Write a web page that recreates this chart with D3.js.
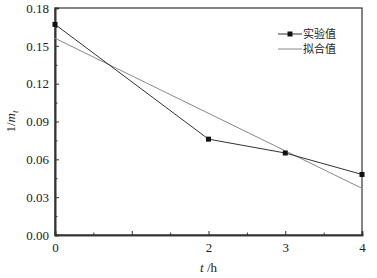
<!DOCTYPE html>
<html>
<head>
<meta charset="utf-8">
<script src="https://cdn.jsdelivr.net/npm/d3@7"></script>
<style>
  body { margin: 0; background: #fff; }
  text { font-family: "Liberation Serif", "DejaVu Serif", serif; fill: #222; }
</style>
</head>
<body>
<script>
// measured values
const hours = [0, 2, 3, 4];
const measured = [0.167, 0.076, 0.065, 0.048];
// fitted straight line, end points
const fitHours = [0, 4];
const fitted = [0.156, 0.037];

const xTicks = [0, 1, 2, 3, 4];
const xTickLabels = ["0", "", "2", "3", "4"];
const yTicks = [0, 0.03, 0.06, 0.09, 0.12, 0.15, 0.18];

const width = 377, height = 278;
const margin = { left: 55, right: 15, top: 8, bottom: 43 };

const svg = d3.select("body").append("svg")
    .attr("width", width)
    .attr("height", height);

const x = d3.scaleLinear().domain([0, 4]).range([margin.left, width - margin.right]);
const y = d3.scaleLinear().domain([0, 0.18]).range([height - margin.bottom, margin.top]);

// frame
svg.append("rect")
    .attr("x", x(0)).attr("y", y(0.18))
    .attr("width", x(4) - x(0)).attr("height", y(0) - y(0.18))
    .attr("fill", "none").attr("stroke", "#333").attr("stroke-width", 1.2);

// ticks pointing inward
svg.append("g")
    .attr("transform", `translate(0,${y(0)})`)
    .call(d3.axisBottom(x).tickValues(xTicks).tickSize(-4).tickPadding(8)
        .tickFormat((d, i) => xTickLabels[i]));
svg.append("g")
    .attr("transform", `translate(0,${y(0)})`)
    .call(d3.axisBottom(x).tickValues([0.5, 1.5, 2.5, 3.5]).tickSize(-2.5).tickFormat(""));

svg.append("g")
    .attr("transform", `translate(${x(0)},0)`)
    .call(d3.axisLeft(y).tickValues(yTicks).tickSize(-4).tickPadding(6)
        .tickFormat(d3.format(".2f")));
svg.append("g")
    .attr("transform", `translate(${x(0)},0)`)
    .call(d3.axisLeft(y).tickValues([0.015, 0.045, 0.075, 0.105, 0.135, 0.165]).tickSize(-2.5).tickFormat(""));

svg.selectAll(".domain").attr("stroke", "#333").attr("stroke-width", 1.6);
svg.selectAll(".tick line").attr("stroke", "#333");
svg.selectAll(".tick text")
    .style("font-family", "'Liberation Serif', serif")
    .style("font-size", "13px")
    .attr("fill", "#222");

// fitted line
const line = d3.line().x(d => x(d[0])).y(d => y(d[1]));
svg.append("path")
    .datum(d3.zip(fitHours, fitted))
    .attr("d", line)
    .attr("fill", "none").attr("stroke", "#888").attr("stroke-width", 1);

// measured line and markers
svg.append("path")
    .datum(d3.zip(hours, measured))
    .attr("d", line)
    .attr("fill", "none").attr("stroke", "#333").attr("stroke-width", 1);

svg.selectAll(".pt")
    .data(d3.zip(hours, measured))
    .join("rect")
    .attr("x", d => x(d[0]) - 2.5)
    .attr("y", d => y(d[1]) - 2.5)
    .attr("width", 5).attr("height", 5)
    .attr("fill", "#111");

// legend
const legend = svg.append("g").attr("transform", "translate(278,34)");
legend.append("line").attr("x1", 0).attr("x2", 24).attr("y1", 0).attr("y2", 0)
    .attr("stroke", "#333");
legend.append("rect").attr("x", 9.5).attr("y", -2.5).attr("width", 5).attr("height", 5).attr("fill", "#111");
legend.append("text").attr("x", 25).attr("y", 4)
    .style("font-family", "'Noto Sans CJK SC', sans-serif").style("font-size", "11px")
    .text("实验值");
legend.append("line").attr("x1", 0).attr("x2", 24).attr("y1", 15).attr("y2", 15)
    .attr("stroke", "#888");
legend.append("text").attr("x", 25).attr("y", 19)
    .style("font-family", "'Noto Sans CJK SC', sans-serif").style("font-size", "11px")
    .text("拟合值");

// axis titles
const yTitle = svg.append("text")
    .attr("transform", `translate(15,${(y(0) + y(0.18)) / 2}) rotate(-90)`)
    .attr("text-anchor", "middle")
    .style("font-size", "13px");
yTitle.append("tspan").text("1/");
yTitle.append("tspan").style("font-style", "italic").text("m");
yTitle.append("tspan").attr("dy", 3).style("font-size", "9px").style("font-style", "italic").text("t");

const xTitle = svg.append("text")
    .attr("x", x(2)).attr("y", 272)
    .attr("text-anchor", "middle")
    .style("font-size", "13px");
xTitle.append("tspan").style("font-style", "italic").text("t");
xTitle.append("tspan").text(" /h");
</script>
</body>
</html>
